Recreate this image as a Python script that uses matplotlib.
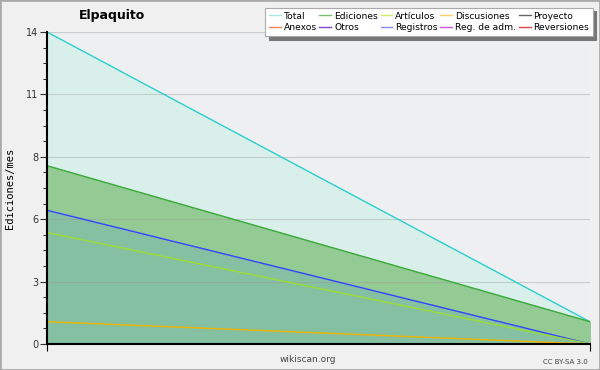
import matplotlib.pyplot as plt
from matplotlib.ticker import FixedLocator, MultipleLocator

# Meses (solo dos puntos)
meses = [0, 1]

# Series (ediciones/mes)
total = [14, 1]
ediciones = [8, 1]
registros = [6, 0]
articulos = [5, 0]
discusiones = [1, 0]

# Leyenda
nombres_leyenda = ['Total', 'Anexos', 'Ediciones', 'Otros', 'Artículos', 'Registros',
                   'Discusiones', 'Reg. de adm.', 'Proyecto', 'Reversiones']
colores_leyenda = ['#a8e6e6', '#ee8855', '#77c077', '#8844cc', '#ccee66', '#8888ee',
                   '#ffcc66', '#cc55dd', '#666666', '#dd4444']

ticks_y = [0, 2.8, 5.6, 8.4, 11.2, 14]
etiquetas_y = ['0', '3', '6', '8', '11', '14']

fig = plt.figure(figsize=(6, 3.7), dpi=100, facecolor='#f0f0f0')
ax = fig.add_axes([47/600, 26/370, 543/600, 312/370])
ax.set_facecolor('#eeeff1')

# rellenos
ax.fill_between(meses, total, 0, color='#d9f0ea', zorder=1)
ax.fill_between(meses, ediciones, 0, color='#94cb94', zorder=1.1)
ax.fill_between(meses, registros, 0, color='#86c0a2', zorder=1.2)

# líneas
ax.plot(meses, total, color='#2ccfcf', lw=1, zorder=3)
ax.plot(meses, ediciones, color='#3aaa3a', lw=1, zorder=3)
ax.plot(meses, registros, color='#3344ff', lw=1, zorder=3)
ax.plot(meses, articulos, color='#99dd33', lw=1, zorder=3)
ax.plot(meses, discusiones, color='#eeb400', lw=1, zorder=3)

ax.set_xlim(0, 1)
ax.set_ylim(0, 14)
ax.yaxis.set_major_locator(FixedLocator(ticks_y))
ax.set_yticklabels(etiquetas_y)
ax.yaxis.set_minor_locator(MultipleLocator(0.7))
ax.set_xticks([0, 1])
ax.set_xticklabels(['', ''])
ax.tick_params(axis='y', which='major', length=5, labelsize=7, colors='#333333', pad=1)
ax.tick_params(axis='y', which='minor', length=3)
ax.tick_params(axis='x', length=5)
ax.grid(True, axis='y', color='#999999', alpha=0.4, lw=0.8, zorder=2)
ax.set_axisbelow(False)
for lado in ['top', 'right']:
    ax.spines[lado].set_visible(False)
ax.spines['left'].set_linewidth(1.5)
ax.spines['bottom'].set_linewidth(1.5)
ax.spines['left'].set_zorder(4)
ax.spines['bottom'].set_zorder(4)

fig.text(10/600, 1 - 188/370, 'Ediciones/mes', fontsize=7.5, family='DejaVu Sans Mono',
         rotation=90, ha='center', va='center')
fig.text(112/600, 1 - 15/370, 'Elpaquito', fontsize=9, fontweight='bold', ha='center', va='center')
fig.text(308/600, 1 - 360/370, 'wikiscan.org', fontsize=6.5, color='#444444', ha='center', va='center')
fig.text(588/600, 1 - 362/370, 'CC BY-SA 3.0', fontsize=5, color='#444444', ha='right', va='center')

# leyenda
manijas = [plt.Line2D([], [], color=c, lw=1) for c in colores_leyenda]
ley = fig.legend(manijas, nombres_leyenda, ncol=5, fontsize=6.6, loc='upper right',
                 bbox_to_anchor=(593/600, 1 - 8/370), frameon=True, fancybox=False,
                 shadow={'color': '#777777', 'alpha': 1, 'ox': 2.5, 'oy': -2.5}, handlelength=1.3,
                 handletextpad=0.3, columnspacing=0.3, labelspacing=0.3,
                 borderpad=0.4, borderaxespad=0)
ley.get_frame().set_edgecolor('#aaaaaa')
ley.get_frame().set_linewidth(0.8)

# borde de la figura
fig.patches.append(plt.Rectangle((0, 0), 1, 1, transform=fig.transFigure, fill=False,
                                 edgecolor='#aaaaaa', lw=2))

plt.savefig('out.png', dpi=100, facecolor=fig.get_facecolor())
